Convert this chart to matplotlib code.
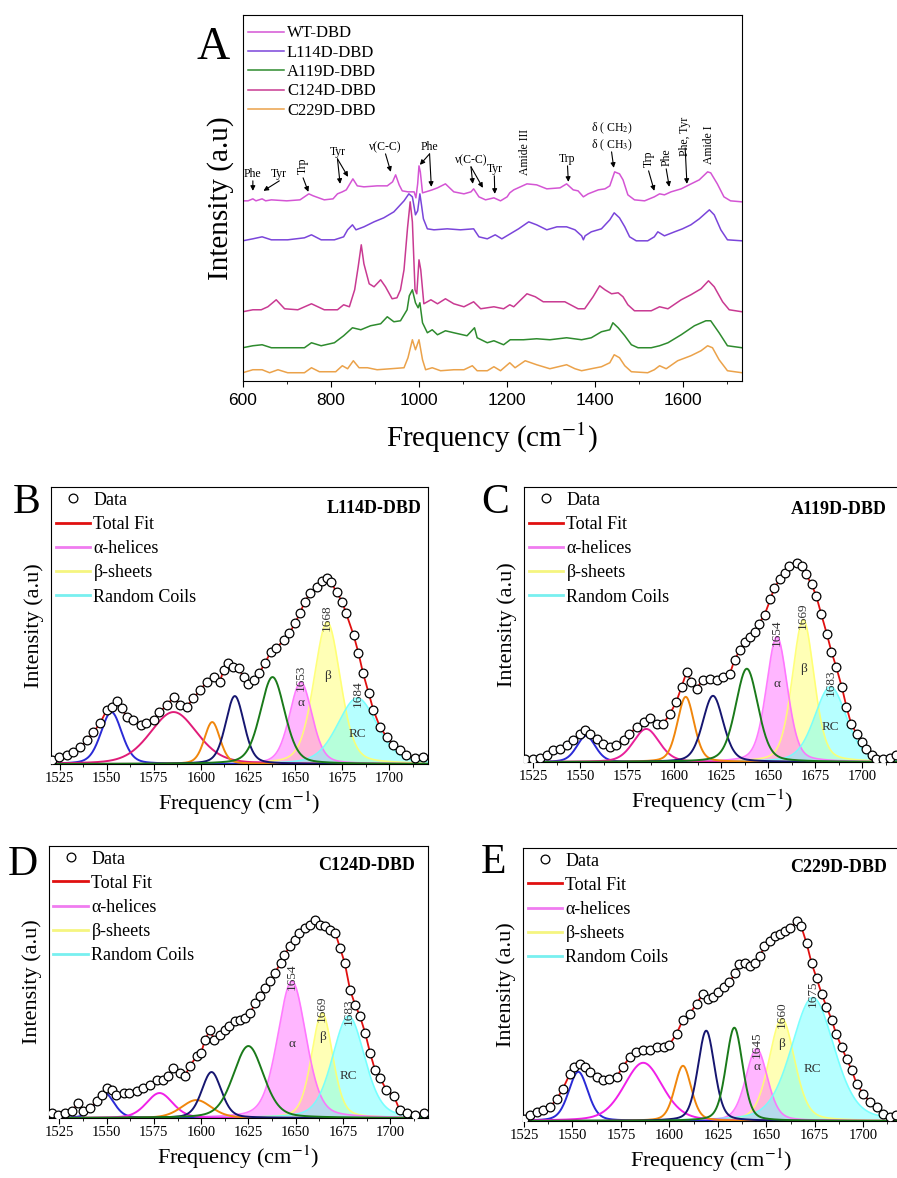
import numpy as np
import matplotlib
matplotlib.use('Agg')
import matplotlib.pyplot as plt
from matplotlib.lines import Line2D
from matplotlib.ticker import MultipleLocator

plt.rcParams['font.family'] = ['Liberation Serif', 'DejaVu Serif']
plt.rcParams['mathtext.fontset'] = 'stix'

# ---------------- panel A : raman spectra (height above own baseline) ----------------
wt_x = [600, 612, 623, 630, 644, 652, 665, 700, 730, 750, 760, 785, 805, 815, 826, 835, 850, 860, 875, 905,
        928, 940, 947, 955, 962, 975, 989, 993, 997, 1000, 1003, 1008, 1023, 1030, 1042, 1060, 1079, 1102, 1118,
        1124, 1136, 1151, 1170, 1185, 1200, 1206, 1215, 1245, 1267, 1290, 1320, 1335, 1350, 1361, 1373, 1384,
        1407, 1422, 1433, 1444, 1455, 1463, 1474, 1489, 1512, 1534, 1546, 1557, 1572, 1595, 1613, 1636, 1655,
        1662, 1677, 1692, 1707, 1733]
wt_y = [1, 1, 3, 1, 3, 1, 2, 1, 2, 8, 6, 2, 3, 8, 10, 12, 23, 16, 15, 16,
        16, 20, 27, 17, 11, 10, 10, 4, 18, 36, 30, 9, 11, 12, 14, 18, 10, 8, 10,
        13, 5, 2, 4, 1, 5, 9, 12, 18, 17, 13, 14, 18, 12, 11, 5, 8,
        12, 13, 16, 30, 28, 22, 7, 2, 1, 5, 8, 7, 10, 13, 17, 22, 30,
        29, 18, 5, 1, 0]

l114_x = [600, 623, 644, 665, 702, 740, 756, 778, 808, 829, 838, 849, 857, 875, 898, 920, 943, 966, 977, 985,
          992, 997, 1002, 1005, 1010, 1019, 1034, 1064, 1094, 1124, 1136, 1155, 1173, 1188, 1207, 1226, 1249,
          1267, 1290, 1313, 1335, 1354, 1369, 1373, 1377, 1391, 1414, 1433, 1443, 1455, 1467, 1478, 1493, 1519,
          1534, 1542, 1557, 1580, 1598, 1617, 1636, 1659, 1670, 1685, 1700, 1733]
l114_y = [0, 2, 4, 1, 1, 3, 6, 1, 1, 4, 11, 16, 11, 14, 19, 23, 29, 40, 47, 44,
          26, 30, 47, 38, 22, 12, 11, 12, 11, 12, 4, 2, 6, 2, 7, 12, 19,
          16, 11, 14, 14, 11, 5, 1, 5, 9, 12, 21, 28, 23, 14, 4, 0, 0,
          4, 9, 5, 9, 12, 16, 22, 31, 26, 11, 1, 0]

a119_x = [600, 623, 644, 665, 740, 756, 778, 808, 829, 849, 868, 890, 913, 928, 943, 958, 973, 978, 985, 992,
          998, 1002, 1008, 1019, 1030, 1042, 1060, 1079, 1109, 1126, 1132, 1155, 1170, 1192, 1207, 1237, 1267,
          1297, 1335, 1369, 1391, 1414, 1433, 1440, 1452, 1467, 1482, 1497, 1527, 1546, 1565, 1595, 1625, 1651,
          1662, 1681, 1700, 1733]
a119_y = [0, 2, 3, 0, 0, 5, 2, 5, 12, 20, 18, 22, 24, 31, 26, 27, 38, 52, 58, 45,
          40, 45, 25, 15, 18, 13, 17, 15, 12, 20, 10, 5, 7, 3, 8, 8, 9,
          8, 10, 8, 10, 16, 18, 25, 20, 12, 3, 0, 0, 2, 5, 13, 22, 27,
          27, 15, 2, 0]

c124_x = [600, 623, 642, 657, 676, 695, 725, 756, 785, 815, 829, 842, 854, 862, 869, 875, 887, 898, 913, 924,
          939, 950, 958, 966, 974, 980, 985, 991, 995, 1000, 1004, 1011, 1027, 1042, 1060, 1079, 1102, 1124,
          1140, 1170, 1192, 1206, 1215, 1245, 1264, 1282, 1305, 1331, 1361, 1376, 1395, 1410, 1422, 1437, 1452,
          1463, 1474, 1489, 1527, 1546, 1565, 1595, 1617, 1640, 1657, 1670, 1689, 1704, 1733]
c124_y = [0, 2, 2, 5, 12, 3, 2, 8, 2, 2, 7, 5, 22, 45, 67, 48, 28, 25, 32, 25,
          13, 14, 22, 42, 84, 110, 90, 22, 18, 52, 42, 8, 12, 8, 13, 8, 5, 10,
          3, 5, 3, 7, 5, 18, 15, 10, 10, 10, 3, 3, 15, 26, 22, 18, 19,
          15, 7, 1, 1, 5, 3, 12, 17, 23, 31, 25, 10, 2, 0]

c229_x = [600, 623, 644, 661, 680, 702, 740, 756, 774, 811, 826, 838, 851, 864, 883, 905, 936, 966, 975, 985,
          992, 1000, 1008, 1015, 1030, 1049, 1079, 1102, 1121, 1132, 1155, 1170, 1185, 1206, 1218, 1241, 1267,
          1297, 1335, 1354, 1369, 1391, 1414, 1433, 1443, 1455, 1467, 1482, 1519, 1534, 1546, 1561, 1587, 1617,
          1640, 1655, 1666, 1681, 1700, 1733]
c229_y = [0, 3, 3, 0, 3, 0, 0, 5, 1, 1, 7, 4, 12, 5, 5, 3, 4, 5, 15, 33,
          23, 33, 13, 3, 5, 2, 3, 3, 7, 2, 2, 6, 2, 10, 5, 12, 8,
          4, 8, 4, 2, 4, 6, 10, 18, 15, 7, 1, 0, 3, 7, 4, 12, 17,
          22, 27, 25, 13, 2, 0]

a_names = ['WT-DBD', 'L114D-DBD', 'A119D-DBD', 'C124D-DBD', 'C229D-DBD']
a_x = [wt_x, l114_x, a119_x, c124_x, c229_x]
a_y = [wt_y, l114_y, a119_y, c124_y, c229_y]
a_offsets = [179, 140, 33, 69, 8]
a_colors = ['#D455D4', '#7A45DA', '#2E8B2E', '#C93A92', '#EBA24A']

# band assignments: label, text position, arrow tips, rotation
bands = [
    ('Phe', (623, 207), [(623, 190)], 0),
    ('Tyr', (683, 207), [(647, 190)], 0),
    ('Trp', (737, 215), [(749, 189)], 90),
    ('Tyr', (815, 229), [(821, 197), (839, 204)], 0),
    ('ν(C-C)', (924, 234), [(936, 209)], 0),
    ('Phe', (1024, 234), [(1002, 216), (1028, 194)], 0),
    ('ν(C-C)', (1118, 221), [(1122, 197), (1145, 193)], 0),
    ('Tyr', (1171, 212), [(1172, 187)], 0),
    ('Amide III', (1240, 229), [], 90),
    ('Trp', (1337, 222), [(1339, 199)], 0),
    ('δ ( CH$_3$)', (1437, 236), [(1442, 213)], 0),
    ('δ ( CH$_2$)', (1437, 253), [], 0),
    ('Trp', (1521, 222), [(1534, 190)], 90),
    ('Phe', (1561, 224), [(1568, 194)], 90),
    ('Phe, Tyr', (1604, 245), [(1608, 197)], 90),
    ('Amide I', (1659, 236), [], 90),
]

# ---------------- panels B-E : amide I deconvolution ----------------
b_x = [1521, 1524.5, 1529, 1532, 1536, 1539.5, 1543, 1546.6, 1550, 1553, 1555.4, 1558, 1560.7, 1564, 1568, 1571,
       1575, 1578, 1582, 1585.5, 1589, 1592.5, 1596, 1599.6, 1603, 1607, 1610, 1612, 1614.6, 1617, 1620, 1622.6,
       1625, 1628, 1631, 1634, 1637, 1640, 1644, 1647, 1650, 1652.6, 1655, 1658, 1661.5, 1664, 1667, 1669, 1672,
       1675, 1677, 1681, 1683.6, 1686, 1689, 1691.5, 1695, 1698.6, 1702, 1705.7, 1709, 1713.6, 1718]
b_y = [4, 7, 9, 12, 17, 24, 32, 41, 54, 57, 63, 56, 47, 44, 39, 41,
       44, 52, 59, 67, 59, 57, 66, 74, 82, 87, 82, 94, 101, 97, 96, 87,
       80, 84, 91, 101, 112, 116, 124, 131, 141, 151, 162, 171, 177, 183, 186, 182, 172,
       162, 151, 129, 111, 91, 71, 54, 37, 27, 19, 14, 9, 6, 7]
b_center = [1552.5, 1585.5, 1606, 1618, 1638, 1653, 1667, 1683]
b_height = [52, 52, 42, 68, 87, 82, 142, 66]
b_sigma = [5.6, 12.5, 4.2, 4.9, 6.5, 6.0, 7.0, 10.5]

c_x = [1520.6, 1525, 1528.5, 1532, 1535.6, 1539, 1542.7, 1546, 1549.8, 1552.5, 1555, 1558.7, 1562, 1565.7, 1569,
       1573, 1576, 1580, 1583.6, 1587, 1590.5, 1594, 1597.6, 1601, 1603.8, 1606.5, 1609, 1611.8, 1615, 1619,
       1622.4, 1626, 1629.5, 1632, 1635, 1637.5, 1640, 1642.8, 1645, 1648, 1651, 1653, 1656, 1658.7, 1661, 1665,
       1667.6, 1670, 1673, 1675.5, 1678, 1681, 1683.5, 1686, 1689, 1691.5, 1694, 1697, 1699.5, 1702, 1705,
       1707.4, 1711, 1714.8, 1718]
c_y = [3, 3, 4, 7, 12, 13, 17, 22, 28, 32, 28, 23, 18, 15, 17,
       22, 28, 35, 40, 44, 38, 38, 48, 60, 75, 90, 80, 73, 82, 83,
       82, 85, 88, 102, 112, 120, 125, 130, 138, 147, 162, 173, 182, 188, 195, 198,
       195, 187, 177, 165, 148, 128, 110, 95, 75, 55, 38, 28, 20, 13, 7,
       3, 3, 4, 7]
c_center = [1553, 1585, 1606, 1620.5, 1638.5, 1654.5, 1668.5, 1683]
c_height = [26, 33, 65, 66, 93, 125, 142, 75]
c_sigma = [5.0, 7.0, 4.5, 5.5, 6.0, 5.6, 5.8, 8.5]

d_x = [1521, 1524.5, 1528, 1531.5, 1535, 1537.7, 1541, 1544.8, 1547.4, 1550, 1552.7, 1555, 1559, 1562, 1566,
       1569, 1573, 1576.5, 1580, 1582.7, 1585, 1589, 1591.5, 1594, 1597.7, 1600, 1602, 1604.7, 1607, 1610,
       1612.7, 1615, 1618, 1620.6, 1623, 1626, 1628.5, 1631, 1634, 1636.5, 1639, 1642, 1644, 1647, 1649.7,
       1652, 1655, 1657.6, 1660, 1663, 1665.6, 1668, 1671, 1673.5, 1676, 1678.8, 1681.5, 1684, 1686.8, 1689.4,
       1692, 1694.7, 1698, 1702, 1705, 1709, 1713, 1718]
d_y = [5, 3, 5, 7, 15, 7, 10, 17, 23, 30, 28, 23, 25, 25, 27,
       30, 33, 38, 38, 42, 50, 45, 42, 52, 62, 65, 78, 88, 78, 83,
       88, 92, 97, 98, 100, 105, 115, 122, 130, 137, 145, 155, 163, 172, 178,
       185, 190, 193, 198, 193, 192, 188, 185, 170, 155, 128, 113, 102, 85, 65,
       48, 40, 28, 22, 8, 5, 3, 5]
d_center = [1549, 1578, 1597.5, 1605.5, 1625, 1648, 1664, 1678]
d_height = [25, 25, 18, 46, 72, 137, 105, 102]
d_sigma = [5.0, 7.0, 8.0, 5.2, 8.0, 7.5, 5.6, 8.5]

e_x = [1525, 1528, 1531.5, 1535, 1538.4, 1542, 1545, 1548.7, 1551, 1554, 1556.5, 1559, 1562.5, 1566, 1569,
       1572.8, 1576, 1579.7, 1583, 1586.5, 1590, 1593.4, 1597, 1600, 1603.7, 1607, 1610.6, 1614, 1617.5, 1620,
       1622.6, 1625, 1628, 1631, 1634, 1636, 1639, 1641.6, 1644, 1646.7, 1649, 1652, 1654.4, 1657, 1659.6,
       1662, 1665.6, 1668, 1670.8, 1673.4, 1676, 1678.5, 1681, 1683.7, 1686, 1688.8, 1691.4, 1694, 1696.6,
       1700, 1703.4, 1707, 1710, 1713.7, 1717]
e_y = [2, 6, 9, 11, 14, 22, 32, 47, 54, 57, 54, 49, 44, 41, 42,
       44, 54, 64, 69, 71, 71, 74, 74, 76, 87, 101, 107, 117, 127, 122,
       124, 129, 134, 139, 147, 156, 157, 154, 157, 164, 174, 179, 184, 186, 189,
       192, 199, 194, 177, 157, 142, 127, 114, 101, 87, 74, 62, 51, 37,
       27, 19, 14, 7, 4, 6]
e_center = [1553, 1586.5, 1607, 1619, 1633.5, 1645, 1658, 1674]
e_height = [49, 58, 55, 90, 93, 72, 102, 123]
e_sigma = [5.0, 10.0, 4.3, 4.3, 4.3, 5.6, 6.6, 11.0]

fit_names = ['L114D-DBD', 'A119D-DBD', 'C124D-DBD', 'C229D-DBD']
peak_labels = [['1653', '1668', '1684'], ['1654', '1669', '1683'],
               ['1654', '1669', '1683'], ['1645', '1660', '1675']]

line_cols = ['#2A2AD6', None, '#F0860C', '#161670', '#1A7A1A']
pink_cols = ['#E01C78', '#E8209A', '#F020E8', '#F020E8']
alpha_col, beta_col, rc_col = '#FF6EFF', '#FFFF6E', '#6EFFFF'

fig = plt.figure(figsize=(8.97, 11.78), dpi=100)

# ---------------- panel A ----------------
axA = fig.add_axes([0.2706, 0.6768, 0.5566, 0.3105])
for xs, ys, off, col, name in zip(a_x, a_y, a_offsets, a_colors, a_names):
    axA.plot(xs, np.array(ys) + off, color=col, lw=1.1, label=name)
axA.set_xlim(600, 1733)
axA.set_ylim(0, 366)
axA.set_yticks([])
axA.xaxis.set_major_locator(MultipleLocator(200))
axA.xaxis.set_minor_locator(MultipleLocator(100))
axA.tick_params(axis='x', which='major', direction='out', length=4, labelsize=12.5, pad=5)
axA.tick_params(axis='x', which='minor', direction='out', length=2.5)
for lab in axA.get_xticklabels():
    lab.set_family('Liberation Sans')
axA.set_xlabel('Frequency (cm$^{-1}$)', fontsize=21, labelpad=9)
axA.set_ylabel('Intensity (a.u)', fontsize=21, labelpad=6)
axA.legend(loc='upper left', bbox_to_anchor=(0.0, 0.985), frameon=False, fontsize=12,
           handlelength=2.2, handletextpad=0.15, labelspacing=0.2, borderaxespad=0.2, borderpad=0.1)
for lab, (tx, ty), tips, rot in bands:
    axA.text(tx, ty, lab, fontsize=8.5, rotation=rot, ha='center', va='center')
    for tip in tips:
        axA.annotate('', xy=tip, xytext=(tx, ty - 7 if rot == 0 else ty - 12),
                     arrowprops=dict(arrowstyle='-|>', color='black', lw=0.8,
                                     mutation_scale=7, shrinkA=0, shrinkB=0))
fig.text(213 / 897, 1 - 48 / 1178, 'A', fontsize=33, ha='center', va='center')


def band(x, c, h, s):
    # pseudo-voigt line shape, same FWHM for both parts
    hw = 1.1774 * s
    return h * (0.7 * np.exp(-(x - c) ** 2 / (2 * s ** 2)) + 0.3 / (1 + ((x - c) / hw) ** 2))


fit_panels = [
    (b_x, b_y, b_center, b_height, b_sigma, [0.0569, 0.3514, 0.4203, 0.2351], (1520.5, 1720.5), 277),
    (c_x, c_y, c_center, c_height, c_sigma, [0.5842, 0.3531, 0.4192, 0.2334], (1520, 1720), 274),
    (d_x, d_y, d_center, d_height, d_sigma, [0.0546, 0.0509, 0.4225, 0.2309], (1519.5, 1720), 272),
    (e_x, e_y, e_center, e_height, e_sigma, [0.5831, 0.0484, 0.4203, 0.2317], (1524.5, 1719), 272),
]
greek_frac = [(0.75, 0.62, 0.45), (0.62, 0.65, 0.47), (0.54, 0.77, 0.41), (0.75, 0.75, 0.42)]
letters = ['B', 'C', 'D', 'E']
letter_pos = [(27, 503), (495, 503), (23, 865), (493, 863)]
name_pos = [(0.983, 0.924), (0.965, 0.919), (0.966, 0.928), (0.966, 0.927)]

for k, (xs, ys, cen, hgt, sig, rect, xl, ytop) in enumerate(fit_panels):
    ax = fig.add_axes(rect)
    grid = np.linspace(xl[0], xl[1], 600)
    cols = list(line_cols)
    cols[1] = pink_cols[k]
    # filled secondary-structure bands
    for i, col in zip([6, 5, 7], [beta_col, alpha_col, rc_col]):
        g = band(grid, cen[i], hgt[i], sig[i])
        ax.fill_between(grid, 0, g, color=col, alpha=0.5, lw=0)
        ax.plot(grid, g, color=col, lw=1.2, alpha=0.9)
    for i in range(5):
        ax.plot(grid, band(grid, cen[i], hgt[i], sig[i]), color=cols[i], lw=1.4)
    ax.plot(xs, ys, color='#E01010', lw=1.3, zorder=3)
    ax.plot(xs, ys, ls='none', marker='o', ms=6.3, mfc='white', mec='black', mew=0.9, zorder=4)
    # band centre labels
    for j, i in enumerate([5, 6, 7]):
        ax.text(cen[i], hgt[i] + 4, peak_labels[k][j], rotation=90, fontsize=9.5,
                ha='center', va='center', color='#333333')
    for lab, i, f in zip(['α', 'β', 'RC'], [5, 6, 7], greek_frac[k]):
        ax.text(cen[i], hgt[i] * f, lab, fontsize=9.5, ha='center', va='center', color='#333333')
    ax.text(name_pos[k][0], name_pos[k][1], fit_names[k], transform=ax.transAxes,
            fontsize=13, fontweight='bold', ha='right', va='center')
    ax.set_xlim(*xl)
    ax.set_ylim(0, ytop)
    ax.set_yticks([])
    ax.xaxis.set_major_locator(MultipleLocator(25))
    ax.xaxis.set_minor_locator(MultipleLocator(12.5))
    ax.tick_params(axis='x', which='major', direction='out', length=4, labelsize=10.5, pad=2)
    ax.tick_params(axis='x', which='minor', direction='out', length=2.5)
    ax.set_xlabel('Frequency (cm$^{-1}$)', fontsize=16, labelpad=3)
    ax.set_ylabel('Intensity (a.u)', fontsize=16, labelpad=5)
    handles = [Line2D([], [], ls='none', marker='o', ms=6.3, mfc='white', mec='black', mew=0.9),
               Line2D([], [], color='#E01010', lw=2),
               Line2D([], [], color='#F07CF0', lw=2),
               Line2D([], [], color='#F5F580', lw=2),
               Line2D([], [], color='#78F0F0', lw=2)]
    ax.legend(handles, ['Data', 'Total Fit', 'α-helices', 'β-sheets', 'Random Coils'],
              loc='upper left', bbox_to_anchor=(0.0, 1.0), frameon=False, fontsize=13,
              handlelength=1.9, handletextpad=0.2, labelspacing=0.4, borderaxespad=0.15, borderpad=0.1)
    fig.text(letter_pos[k][0] / 897, 1 - letter_pos[k][1] / 1178, letters[k],
             fontsize=30, ha='center', va='center')

fig.savefig('out.png', dpi=100)
